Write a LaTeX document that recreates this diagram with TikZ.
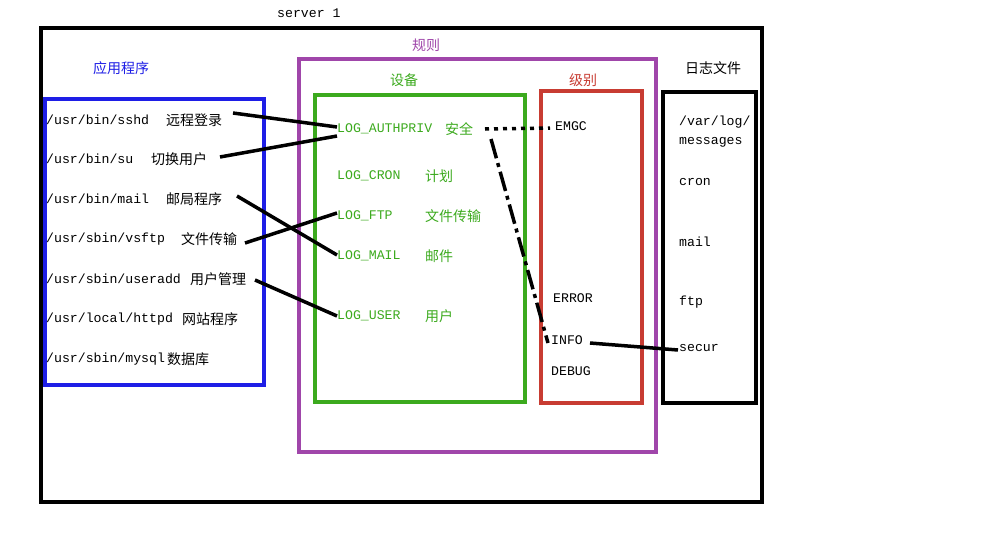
\documentclass[tikz,border=0pt]{standalone}
\usepackage{fontspec}
\setmonofont{Liberation Mono}
\newfontfamily\cjk{Noto Sans CJK SC}
\begin{document}
\begin{tikzpicture}[x=1pt,y=-1pt,
  lat/.style={anchor=west,inner sep=0pt,font=\ttfamily\fontsize{13.2}{14}\selectfont},
  zh/.style={anchor=west,inner sep=0pt,font=\cjk\fontsize{14}{15}\selectfont},
  frame/.style={line width=3.5pt},
  conn/.style={line width=3.5pt,black}]
\useasboundingbox[fill=white] (0,0) rectangle (1003,535);
\definecolor{gblue}{RGB}{30,30,230}
\definecolor{gpurple}{RGB}{160,70,170}
\definecolor{ggreen}{RGB}{60,170,30}
\definecolor{gred}{RGB}{200,60,50}
\draw[frame] (41,28) rectangle (762,502);
\draw[frame,gblue] (45,99) rectangle (264,385);
\draw[frame,gpurple] (299,59) rectangle (656,452);
\draw[frame,ggreen] (315,95) rectangle (525,402);
\draw[frame,gred] (541,91) rectangle (642,403);
\draw[frame] (663,92) rectangle (756,403);
\node[lat] (srv) at (277,13) {server 1};
\node[zh,gblue] (app) at (93,68) {应用程序};
\node[zh,gpurple] (rule) at (412,45) {规则};
\node[zh,ggreen] (dev) at (390,80) {设备};
\node[zh,gred] (lvl) at (569,80) {级别};
\node[zh] (logf) at (685,68) {日志文件};
% left
\node[lat] (a1) at (46,120) {/usr/bin/sshd}; \node[zh] (a1z) at (166,120) {远程登录};
\node[lat] (a2) at (46,159) {/usr/bin/su}; \node[zh] (a2z) at (151,159) {切换用户};
\node[lat] (a3) at (46,199) {/usr/bin/mail}; \node[zh] (a3z) at (166,199) {邮局程序};
\node[lat] (a4) at (46,239) {/usr/sbin/vsftp}; \node[zh] (a4z) at (181,239) {文件传输};
\node[lat] (a5) at (46,279) {/usr/sbin/useradd}; \node[zh] (a5z) at (190,279) {用户管理};
\node[lat] (a6) at (46,319) {/usr/local/httpd}; \node[zh] (a6z) at (182,319) {网站程序};
\node[lat] (a7) at (46,359) {/usr/sbin/mysql}; \node[zh] (a7z) at (167,359) {数据库};
% green
\node[lat,ggreen] (g1) at (337,129) {LOG\_AUTHPRIV}; \node[zh,ggreen] (g1z) at (445,129) {安全};
\node[lat,ggreen] (g2) at (337,176) {LOG\_CRON}; \node[zh,ggreen] (g2z) at (425,176) {计划};
\node[lat,ggreen] (g3) at (337,216) {LOG\_FTP}; \node[zh,ggreen] (g3z) at (425,216) {文件传输};
\node[lat,ggreen] (g4) at (337,256) {LOG\_MAIL}; \node[zh,ggreen] (g4z) at (425,256) {邮件};
\node[lat,ggreen] (g5) at (337,316) {LOG\_USER}; \node[zh,ggreen] (g5z) at (425,316) {用户};
% red
\node[lat] (r1) at (555,126) {EMGC};
\node[lat] (r2) at (553,298) {ERROR};
\node[lat] (r3) at (551,340) {INFO};
\node[lat] (r4) at (551,371) {DEBUG};
% right
\node[lat] (f1) at (679,122) {/var/log/};
\node[lat] (f1b) at (679,142) {messages};
\node[lat] (f2) at (679,182) {cron};
\node[lat] (f3) at (679,242) {mail};
\node[lat] (f4) at (679,302) {ftp};
\node[lat] (f5) at (679,348) {secur};
% connectors
\coordinate (c1a) at (233,113); \coordinate (c1b) at (337,127);
\coordinate (c2a) at (220,157); \coordinate (c2b) at (337,136);
\coordinate (c3a) at (237,196); \coordinate (c3b) at (337,255);
\coordinate (c4a) at (245,243); \coordinate (c4b) at (337,213);
\coordinate (c5a) at (255,280); \coordinate (c5b) at (337,316);
\draw[conn] (c1a) -- (c1b);
\draw[conn] (c2a) -- (c2b);
\draw[conn] (c3a) -- (c3b);
\draw[conn] (c4a) -- (c4b);
\draw[conn] (c5a) -- (c5b);
\coordinate (d1a) at (485,129); \coordinate (d1b) at (550,128);
\draw[conn,dash pattern=on 4pt off 5pt] (d1a) -- (d1b);
\coordinate (d2a) at (491,139); \coordinate (d2b) at (548,343);
\draw[conn,dash pattern=on 20pt off 5pt on 4pt off 5pt] (d2a) -- (d2b);
\coordinate (d3a) at (590,343); \coordinate (d3b) at (678,350);
\draw[conn] (d3a) -- (d3b);
\end{tikzpicture}
\end{document}
